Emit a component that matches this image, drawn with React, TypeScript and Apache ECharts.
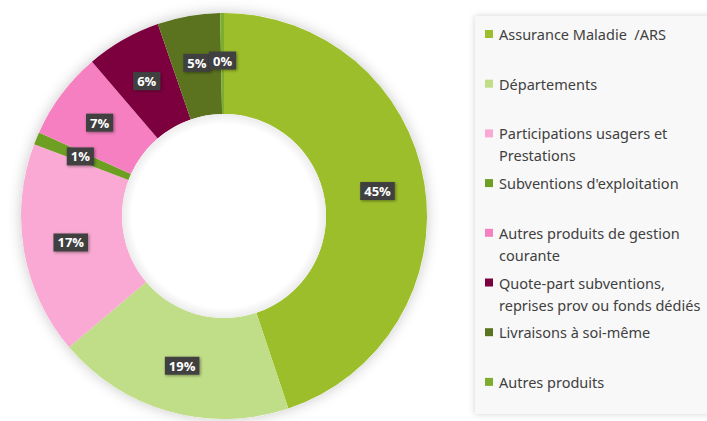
import React, { useEffect, useRef } from "react";
import * as echarts from "echarts";

const categories = [
  "Assurance Maladie  /ARS",
  "Départements",
  "Participations usagers et\nPrestations",
  "Subventions d'exploitation",
  "Autres produits de gestion\ncourante",
  "Quote-part subventions,\nreprises prov ou fonds dédiés",
  "Livraisons à soi-même",
  "Autres produits",
];
const values = [45, 19, 17, 1, 7, 6, 5, 0.3];
const colors = [
  "#9CBE2B",
  "#C0DD88",
  "#F9A9D3",
  "#6E9E22",
  "#F57FC0",
  "#7C003E",
  "#5B731E",
  "#7DAD2E",
];

export default function App() {
  const ref = useRef<HTMLDivElement>(null);
  useEffect(() => {
    document.body.style.margin = "0";
    const chart = echarts.init(ref.current!, undefined, { renderer: "svg" });
    const cx = 224;
    const cy = 216;
    const legendEls: any[] = [];
    categories.forEach((c, i) => {
      const y = 34 + i * 49.7;
      legendEls.push({
        type: "rect",
        shape: { x: 485, y: y - 4, width: 8, height: 8 },
        style: { fill: colors[i] },
        z: 5,
      });
      legendEls.push({
        type: "text",
        x: 499,
        y: y - 11,
        style: {
          text: c,
          fill: "#404040",
          font: "14.5px 'Noto Sans', 'Open Sans', sans-serif",
          lineHeight: 22,
          textVerticalAlign: "top",
        },
        z: 5,
      });
    });
    chart.setOption({
      animation: false,
      graphic: [
        {
          type: "rect",
          shape: { x: 475, y: 16, width: 250, height: 398 },
          style: { fill: "#F8F8F8", shadowBlur: 6, shadowColor: "rgba(0,0,0,0.18)" },
          z: 0,
        },
        {
          type: "circle",
          shape: { cx, cy, r: 203 },
          style: { fill: "#fff", shadowBlur: 14, shadowColor: "rgba(0,0,0,0.22)" },
          z: 0,
        },
        {
          type: "circle",
          shape: { cx, cy, r: 102 },
          style: {
            fill: {
              type: "radial",
              x: 0.5,
              y: 0.5,
              r: 0.5,
              colorStops: [
                { offset: 0, color: "#ffffff" },
                { offset: 0.9, color: "#ffffff" },
                { offset: 1, color: "#ececec" },
              ],
            },
          },
          z: 10,
        },
        ...legendEls,
      ],
      series: [
        {
          type: "pie",
          center: [cx, cy],
          radius: [102, 203],
          startAngle: 90,
          clockwise: true,
          minShowLabelAngle: 0,
          labelLayout: { hideOverlap: false },
          data: categories.map((c, i) => ({
            name: c,
            value: values[i],
            itemStyle: { color: colors[i] },
          })),
          label: {
            show: true,
            position: "inside",
            formatter: (p: any) => Math.round(p.percent) + "%",
            color: "#fff",
            fontWeight: "bold",
            fontSize: 13,
            fontFamily: "'Open Sans', sans-serif",
            backgroundColor: "#404040",
            padding: [3, 4, 2, 4],
            shadowBlur: 3,
            shadowOffsetX: 1,
            shadowOffsetY: 1,
            shadowColor: "rgba(0,0,0,0.4)",
          },
          labelLine: { show: false },
          emphasis: { disabled: true },
        },
      ],
    });
    return () => chart.dispose();
  }, []);
  return <div ref={ref} style={{ width: 707, height: 421 }} />;
}
